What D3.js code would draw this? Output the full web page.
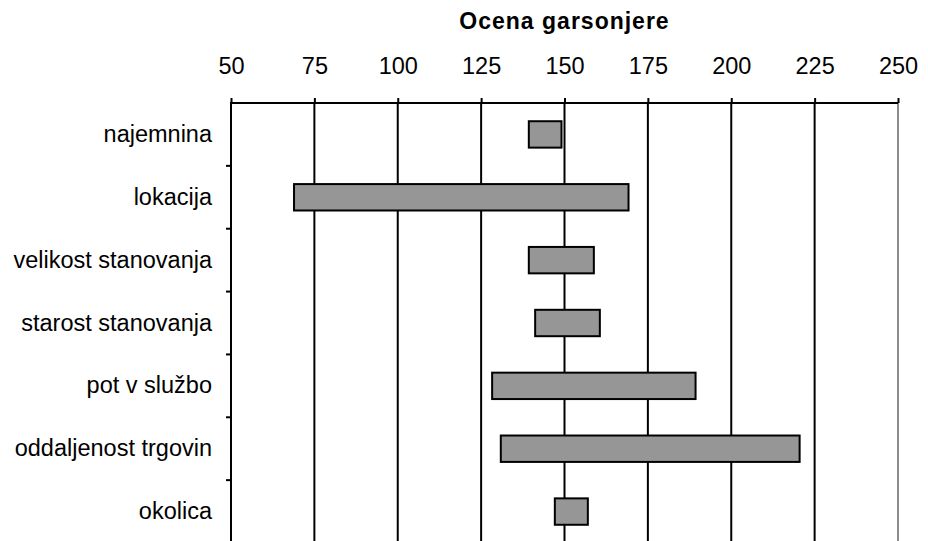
<!DOCTYPE html>
<html>
<head>
<meta charset="utf-8">
<script src="https://cdn.jsdelivr.net/npm/d3@7"></script>
<style>
  html, body { margin: 0; padding: 0; background: #fff; }
  svg { display: block; }
  text { font-family: "Liberation Sans", Arial, sans-serif; fill: #000; }
</style>
</head>
<body>
<svg id="chart" width="928" height="541"></svg>
<script>
const categories = ["najemnina", "lokacija", "velikost stanovanja", "starost stanovanja", "pot v službo", "oddaljenost trgovin", "okolica"];
const lowValues  = [139.3, 68.9, 139.3, 141.2, 128.3, 130.9, 147.1];
const highValues = [149.1, 169.2, 158.8, 160.6, 189.3, 220.5, 157.0];
const xTicks = [50, 75, 100, 125, 150, 175, 200, 225, 250];
const title = "Ocena garsonjere";

(function () {
const svg = d3.select("#chart");
const mL = 231, mR = 898, mT = 103, mB = 543;
const fs = "23.5px";

const x = d3.scaleLinear().domain([50, 250]).range([mL, mR]);
const y = d3.scaleBand().domain(categories).range([mT, mB]).padding(0);

// gridlines
svg.append("g").selectAll("line").data(xTicks.slice(1)).join("line")
  .attr("x1", d => x(d)).attr("x2", d => x(d))
  .attr("y1", mT).attr("y2", mB)
  .attr("stroke", d => d === 250 ? "#8c8c8c" : "#000")
  .attr("stroke-width", 2);

// bars
const barH = y.bandwidth() * 0.42;
svg.append("g").selectAll("rect").data(categories).join("rect")
  .attr("x", (d, i) => x(lowValues[i]))
  .attr("width", (d, i) => x(highValues[i]) - x(lowValues[i]))
  .attr("y", d => y(d) + (y.bandwidth() - barH) / 2)
  .attr("height", barH)
  .attr("fill", "#969696")
  .attr("stroke", "#000")
  .attr("stroke-width", 2);

// top axis
const xAxis = svg.append("g").attr("transform", `translate(0,${mT})`)
  .call(d3.axisTop(x).tickValues(xTicks).tickSize(5).tickPadding(24).tickSizeOuter(0));
xAxis.select(".domain").attr("stroke", "#000").attr("stroke-width", 2).attr("d", `M${mL - 1},0H${mR}`);
xAxis.selectAll(".tick line").attr("stroke", "#000").attr("stroke-width", 2);
xAxis.selectAll(".tick text").style("font-size", fs).style("font-family", "Liberation Sans, Arial, sans-serif").attr("fill", "#000");

// left axis
const yAxis = svg.append("g").attr("transform", `translate(${mL},0)`)
  .call(d3.axisLeft(y).tickSize(0).tickPadding(19));
yAxis.select(".domain").attr("stroke", "#000").attr("stroke-width", 2).attr("d", `M0,${mT}V${mB}`);
yAxis.selectAll(".tick text").style("font-size", fs).style("font-family", "Liberation Sans, Arial, sans-serif").attr("fill", "#000");

// category boundary ticks
svg.append("g").selectAll("line").data(categories.slice(1)).join("line")
  .attr("x1", mL - 5).attr("x2", mL)
  .attr("y1", d => y(d)).attr("y2", d => y(d))
  .attr("stroke", "#000").attr("stroke-width", 2);

// title
svg.append("text")
  .attr("x", (mL + mR) / 2).attr("y", 29)
  .attr("text-anchor", "middle")
  .style("font-size", "23px").style("font-weight", "bold").style("letter-spacing", "1px")
  .text(title);
})();
</script>
</body>
</html>
